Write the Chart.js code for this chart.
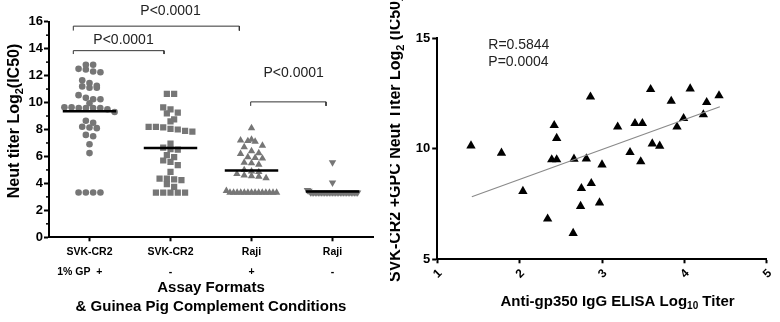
<!DOCTYPE html>
<html>
<head>
<meta charset="utf-8">
<script src="https://cdn.jsdelivr.net/npm/chart.js@4.4.1/dist/chart.umd.min.js"></script>
<style>
  html, body { margin: 0; padding: 0; background: #fff; }
  #wrap { position: relative; width: 780px; height: 322px; }
  .panel { position: absolute; top: 0; width: 390px; height: 322px; }
</style>
</head>
<body>
<div id="wrap">
  <div class="panel" style="left:0"><canvas id="dotChart" width="390" height="322"></canvas></div>
  <div class="panel" style="left:390px"><canvas id="corrChart" width="390" height="322"></canvas></div>
</div>
<script>
// Left panel: neut titer by assay format / complement
const formats = ["SVK-CR2", "SVK-CR2", "Raji", "Raji"];
const complement = ["1% GP  +", "-", "+", "-"];
const svkPlus = [12.8, 12.8, 12.5, 12.45, 12.3, 12.25, 11.65, 11.45, 11.25, 11.2, 11.1, 11.1,
  10.55, 10.35, 10.25, 10.25, 9.95, 9.65, 9.65, 9.6, 9.6, 9.6, 9.6, 9.5, 9.3,
  8.65, 8.5, 8.2, 8.15, 8.1, 7.6, 7.5, 6.9, 6.25, 3.32, 3.32, 3.32, 3.32];
const svkMinus = [10.65, 10.65, 9.65, 9.5, 9.25, 9.2, 8.75, 8.6, 8.2, 8.2, 8.15, 8.05, 8.0, 7.9, 7.85,
  6.95, 6.65, 6.55, 6.5, 6.1, 5.95, 5.7, 5.6, 5.35, 4.85, 4.35, 4.35, 4.3, 4.25, 3.95, 3.75,
  3.32, 3.32, 3.32, 3.32, 3.32];
const rajiPlus = [8.1, 7.25, 7.2, 7.15, 7.1, 6.8, 6.7, 6.4, 6.25, 6.2, 5.95, 5.9, 5.85, 5.55, 5.5, 5.4,
  5.0, 4.9, 4.85, 4.7, 4.6, 4.55, 4.5, 4.4, 3.45,
  3.32, 3.32, 3.32, 3.32, 3.32, 3.32, 3.32, 3.32, 3.32, 3.32, 3.32, 3.32, 3.32, 3.32];
const rajiMinus = [5.55, 4.05, 3.5, 3.45,
  3.32, 3.32, 3.32, 3.32, 3.32, 3.32, 3.32, 3.32, 3.32, 3.32, 3.32, 3.32, 3.32, 3.32, 3.32, 3.32,
  3.32, 3.32, 3.32, 3.32, 3.32, 3.32, 3.32, 3.32, 3.32, 3.32, 3.32, 3.32, 3.32, 3.32, 3.32];
const medians = [9.35, 6.62, 4.95, 3.4];
const pLabels = ["P<0.0001", "P<0.0001", "P<0.0001"];
// bracket: from / to (x values), height, drop of end ticks, label position
const brackets = [
  { from: -0.2, to: 1.85, y: 15.67, drop: 0.33, lx: 1.0, ly: 16.8 },
  { from: -0.2, to: 0.92, y: 13.85, drop: 0.25, lx: 0.42, ly: 14.6 },
  { from: 1.99, to: 2.92, y: 10.05, drop: 0.3, lx: 2.52, ly: 12.16 }
];

// Right panel: ELISA vs neut titer
const elisaTiter = [1.41, 1.78, 2.04, 2.34, 2.42, 2.45, 2.39, 2.45, 2.66, 2.65, 2.75, 2.74, 2.81, 2.86,
  2.87, 2.97, 3.0, 3.19, 3.34, 3.40, 3.49, 3.47, 3.59, 3.61, 3.70, 3.84, 3.91, 3.99, 4.07, 4.23, 4.27, 4.42];
const neutTiter = [10.14, 9.81, 8.08, 6.83, 11.06, 10.48, 9.51, 9.51, 9.54, 6.18, 8.21, 7.40, 9.55, 12.35,
  8.44, 7.56, 9.28, 10.99, 9.84, 11.15, 11.15, 9.42, 12.69, 10.23, 10.13, 12.16, 10.99, 11.38, 12.72,
  11.55, 12.10, 12.41];
const fitX = [1.42, 4.43];
const fitY = [7.83, 11.9];
const statText = ["R=0.5844", "P=0.0004"];

const FONT = '"Liberation Sans", Arial, sans-serif';
const GREY = "#767676";

// spread points that share a row side by side, like a scatter dot plot
function swarm(values, center) {
  const rows = {};
  values.forEach(v => {
    const k = Math.round(v / 0.5);
    (rows[k] = rows[k] || []).push(v);
  });
  const pts = [];
  Object.values(rows).forEach(row => {
    const n = row.length;
    const gap = n > 1 ? Math.min(0.09, 0.62 / (n - 1)) : 0;
    row.forEach((v, i) => pts.push({ x: center + (i - (n - 1) / 2) * gap, y: v }));
  });
  return pts;
}

// text with subscript pieces
function drawRich(ctx, parts, x, y, opts) {
  const size = opts.size, weight = opts.weight || "bold";
  const fontFor = p => `${weight} ${p.sub ? Math.round(size * 0.68) : size}px ${FONT}`;
  ctx.save();
  ctx.translate(x, y);
  ctx.rotate(opts.angle || 0);
  let total = 0;
  parts.forEach(p => { ctx.font = fontFor(p); p.w = ctx.measureText(p.t).width; total += p.w; });
  let cx = opts.align === "center" ? -total / 2 : 0;
  ctx.fillStyle = opts.color || "#000";
  ctx.textBaseline = "middle";
  ctx.textAlign = "left";
  parts.forEach(p => {
    ctx.font = fontFor(p);
    ctx.fillText(p.t, cx, p.sub ? size * 0.32 : 0);
    cx += p.w;
  });
  ctx.restore();
}

const groups = [svkPlus, svkMinus, rajiPlus, rajiMinus];
const markers = [
  { style: "circle", r: 3.3, rot: 0 },
  { style: "rect", r: 4.4, rot: 0 },
  { style: "triangle", r: 4.3, rot: 0 },
  { style: "triangle", r: 4.3, rot: 180 }
];

const leftDatasets = [];
medians.forEach((m, i) => {
  leftDatasets.push({
    data: [{ x: i - 0.33, y: m }, { x: i + 0.33, y: m }],
    showLine: true, borderColor: "#000", borderWidth: 2.5, pointRadius: 0
  });
});
brackets.forEach(b => {
  leftDatasets.push({
    data: [{ x: b.from, y: b.y - b.drop }, { x: b.from, y: b.y }, { x: b.to, y: b.y }, { x: b.to, y: b.y - b.drop }],
    showLine: true, borderColor: "#333", borderWidth: 1, pointRadius: 0
  });
});
groups.forEach((vals, i) => {
  leftDatasets.push({
    data: swarm(vals, i),
    pointStyle: markers[i].style,
    pointRadius: markers[i].r,
    pointRotation: markers[i].rot,
    pointBackgroundColor: GREY,
    pointBorderWidth: 0
  });
});

const leftExtras = {
  id: "leftExtras",
  afterDraw(chart) {
    const { ctx, scales: { x, y }, chartArea } = chart;
    ctx.save();
    // minor ticks
    ctx.strokeStyle = "#000";
    ctx.lineWidth = 1.5;
    for (let v = 1; v < 16; v += 2) {
      const py = y.getPixelForValue(v);
      ctx.beginPath();
      ctx.moveTo(chartArea.left - 3, py);
      ctx.lineTo(chartArea.left, py);
      ctx.stroke();
    }
    // p-value labels
    ctx.fillStyle = "#222";
    ctx.font = `14px ${FONT}`;
    ctx.textAlign = "center";
    ctx.textBaseline = "middle";
    brackets.forEach((b, i) => {
      ctx.fillText(pLabels[i], x.getPixelForValue(b.lx), y.getPixelForValue(b.ly));
    });
    // complement row
    ctx.fillStyle = "#000";
    ctx.font = `bold 10.5px ${FONT}`;
    complement.forEach((c, i) => {
      const px = x.getPixelForValue(i);
      if (i === 0) {
        ctx.textAlign = "right";
        ctx.fillText(c, px + 13, x.top + 34.4);
      } else {
        ctx.textAlign = "center";
        ctx.fillText(c, px, x.top + 34.4);
      }
    });
    ctx.restore();
    drawRich(ctx, [{ t: "Neut titer Log" }, { t: "2", sub: true }, { t: "(IC50)" }], 15, 121,
      { size: 16, angle: -Math.PI / 2, align: "center" });
  }
};

new Chart(document.getElementById("dotChart"), {
  type: "scatter",
  data: { datasets: leftDatasets },
  options: {
    responsive: false,
    animation: false,
    layout: { padding: { top: 21.7, right: 17, left: 0, bottom: 0 } },
    plugins: { legend: { display: false }, tooltip: { enabled: false } },
    scales: {
      x: {
        type: "linear", min: -0.5, max: 3.5,
        afterFit: s => { s.height = 84.7; },
        afterBuildTicks: s => { s.ticks = formats.map((f, i) => ({ value: i })); },
        border: { color: "#000", width: 2 },
        grid: { drawOnChartArea: false, tickLength: 4, tickWidth: 2, tickColor: "#000" },
        ticks: {
          autoSkip: false, maxRotation: 0, padding: 4.5, color: "#000",
          font: { family: FONT, size: 10.5, weight: "bold" },
          callback: v => formats[v]
        },
        title: {
          display: true,
          text: ["Assay Formats", "& Guinea Pig Complement Conditions"],
          color: "#000",
          font: { family: FONT, size: 15, weight: "bold", lineHeight: 1.27 },
          padding: { top: 0, bottom: 5.5 }
        }
      },
      y: {
        min: 0, max: 16,
        afterFit: s => { s.width = 49; },
        border: { color: "#000", width: 2 },
        grid: {
          drawOnChartArea: false, tickLength: 5, tickWidth: 2,
          tickColor: c => (c.tick && c.tick.value % 2 ? "rgba(0,0,0,0)" : "#000")
        },
        ticks: {
          stepSize: 1, padding: 1, color: "#000",
          font: { family: FONT, size: 13, weight: "bold" },
          callback: v => (v % 2 === 0 ? v : "")
        }
      }
    }
  },
  plugins: [leftExtras]
});

// right panel
const rightExtras = {
  id: "rightExtras",
  afterDraw(chart) {
    const { ctx } = chart;
    drawRich(ctx, [{ t: "SVK-CR2 +GPC Neut Titer Log" }, { t: "2", sub: true }, { t: " (IC50)" }], 5.5, 282,
      { size: 16, angle: -Math.PI / 2, align: "left" });
    drawRich(ctx, [{ t: "Anti-gp350 IgG ELISA Log" }, { t: "10", sub: true }, { t: " Titer" }], 227.5, 301.7,
      { size: 15, align: "center" });
    ctx.save();
    ctx.fillStyle = "#222";
    ctx.font = `14px ${FONT}`;
    ctx.textAlign = "left";
    ctx.textBaseline = "middle";
    statText.forEach((t, i) => ctx.fillText(t, 98.3, 45 + i * 17));
    ctx.restore();
  }
};

new Chart(document.getElementById("corrChart"), {
  type: "scatter",
  data: {
    datasets: [
      {
        data: fitX.map((x, i) => ({ x, y: fitY[i] })),
        showLine: true, borderColor: "#8a8a8a", borderWidth: 1.2, pointRadius: 0
      },
      {
        data: elisaTiter.map((x, i) => ({ x, y: neutTiter[i] })),
        pointStyle: "triangle", pointRadius: 5.4, pointBackgroundColor: "#000", pointBorderWidth: 0
      }
    ]
  },
  options: {
    responsive: false,
    animation: false,
    layout: { padding: { top: 38.3, right: 11.7, left: 0, bottom: 0 } },
    plugins: { legend: { display: false }, tooltip: { enabled: false } },
    scales: {
      x: {
        min: 1, max: 5,
        afterFit: s => { s.height = 62.7; },
        border: { color: "#000", width: 2 },
        grid: { drawOnChartArea: false, tickLength: 4, tickWidth: 2, tickColor: "#000" },
        ticks: {
          stepSize: 1, minRotation: 45, maxRotation: 45, padding: 3, labelOffset: 3, color: "#000",
          font: { family: FONT, size: 12, weight: "bold" }
        }
      },
      y: {
        min: 5, max: 15,
        afterFit: s => { s.width = 47.2; },
        border: { color: "#000", width: 2 },
        grid: { drawOnChartArea: false, tickLength: 5, tickWidth: 2, tickColor: "#000" },
        ticks: {
          stepSize: 5, padding: 2, color: "#000",
          font: { family: FONT, size: 13, weight: "bold" }
        }
      }
    }
  },
  plugins: [rightExtras]
});
</script>
</body>
</html>
